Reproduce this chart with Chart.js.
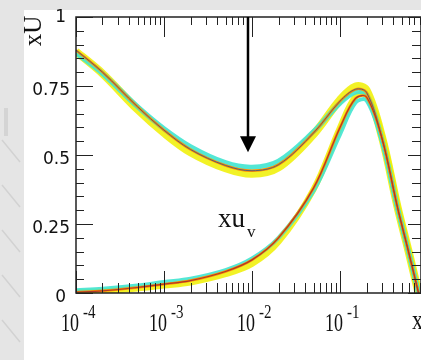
<!DOCTYPE html>
<html>
<head>
<meta charset="utf-8">
<script src="https://cdn.jsdelivr.net/npm/chart.js@4"></script>
<style>
  html, body { margin: 0; padding: 0; background: #e5e5e5; overflow: hidden; }
  #c { position: absolute; left: 0; top: 0; }
</style>
</head>
<body>
<canvas id="c" width="421" height="360"></canvas>
<script>
// x values (log axis) shared by every band
var xs = [1e-4, 2e-4, 5e-4, 1e-3, 2e-3, 5e-3, 1e-2, 2e-2, 5e-2, 0.1, 0.15, 0.2, 0.3, 0.45, 0.6, 0.78];

// upper curve (xU), several fits drawn on top of each other
var upperYellow = [0.875, 0.795, 0.665, 0.580, 0.510, 0.452, 0.432, 0.455, 0.575, 0.700, 0.748, 0.735, 0.565, 0.312, 0.152, 0];
var upperCyan   = [0.870, 0.795, 0.675, 0.595, 0.530, 0.472, 0.456, 0.478, 0.585, 0.688, 0.728, 0.718, 0.555, 0.308, 0.150, 0];
var upperLine   = [0.880, 0.800, 0.675, 0.590, 0.520, 0.462, 0.443, 0.465, 0.580, 0.695, 0.738, 0.727, 0.560, 0.310, 0.150, 0];

// lower curve (xu_v)
var lowerYellow = [0.003, 0.006, 0.016, 0.027, 0.038, 0.068, 0.105, 0.185, 0.375, 0.600, 0.712, 0.718, 0.570, 0.318, 0.156, 0];
var lowerCyan   = [0.010, 0.015, 0.027, 0.040, 0.052, 0.083, 0.125, 0.200, 0.370, 0.575, 0.690, 0.698, 0.550, 0.305, 0.150, 0];
var lowerLine   = [0.003, 0.008, 0.020, 0.032, 0.045, 0.078, 0.120, 0.200, 0.380, 0.600, 0.705, 0.710, 0.560, 0.310, 0.150, 0];

// axes
var xDecades = [-4, -3, -2, -1];
var yTicks = [0, 0.25, 0.5, 0.75, 1];
var yTickLabels = ['0', '0.25', '0.5', '0.75', '1'];

// arrow and label
var arrowX = 9e-3, arrowFrom = 1, arrowTo = 0.51;
var labelX = 4.1e-3, labelY = 0.24;

function pts(ys) {
  return xs.map(function (x, i) { return { x: x, y: ys[i] }; });
}

function band(ys, color, width, order) {
  return {
    data: pts(ys),
    borderColor: color,
    borderWidth: width,
    order: order,
    fill: false,
    pointRadius: 0,
    tension: 0.35
  };
}

// text squeezed like the stretched bitmap of the original
function txt(ctx, s, x, y, font, align, sy) {
  ctx.save();
  ctx.translate(x, y);
  ctx.scale(1, sy || 1);
  ctx.font = font;
  ctx.textAlign = align || 'left';
  ctx.textBaseline = 'middle';
  ctx.fillStyle = '#111';
  ctx.fillText(s, 0, 0);
  ctx.restore();
}

var background = {
  id: 'background',
  beforeDraw: function (chart) {
    var ctx = chart.ctx;
    ctx.save();
    ctx.fillStyle = '#e5e5e5';
    ctx.fillRect(0, 0, 421, 360);
    ctx.fillStyle = '#ffffff';
    ctx.fillRect(24, 10, 397, 350);
    // faint strokes on the left strip
    ctx.strokeStyle = '#d2d2d2';
    ctx.lineWidth = 1.5;
    [140, 185, 230, 275, 320].forEach(function (y) {
      ctx.beginPath();
      ctx.moveTo(2, y);
      ctx.lineTo(20, y + 22);
      ctx.stroke();
    });
    ctx.fillStyle = '#d4d4d4';
    ctx.fillRect(4, 108, 4, 28);
    ctx.restore();
  }
};

var frame = {
  id: 'frame',
  afterDraw: function (chart) {
    var ctx = chart.ctx, a = chart.chartArea;
    var sx = chart.scales.x, sy = chart.scales.y;
    ctx.save();
    ctx.strokeStyle = '#222';
    ctx.lineWidth = 1.5;
    ctx.strokeRect(a.left, a.top, a.right - a.left, a.bottom - a.top);

    // x ticks, inward on bottom and top
    ctx.lineWidth = 1;
    for (var d = -4; d <= 0; d++) {
      for (var m = 1; m <= 9; m++) {
        var v = m * Math.pow(10, d);
        if (v < sx.min || v > sx.max) continue;
        var px = Math.round(sx.getPixelForValue(v)) + 0.5;
        var major = m === 1;
        ctx.beginPath();
        ctx.moveTo(px, a.bottom);
        ctx.lineTo(px, a.bottom - (major ? 22 : 10));
        ctx.moveTo(px, a.top);
        ctx.lineTo(px, a.top + (major ? 20 : 8));
        ctx.stroke();
      }
    }
    // y ticks, inward on left and right
    for (var k = 0; k <= 20; k++) {
      var py = Math.round(sy.getPixelForValue(k * 0.05)) + 0.5;
      var big = k % 5 === 0;
      ctx.beginPath();
      ctx.moveTo(a.left, py);
      ctx.lineTo(a.left + (big ? 17 : 8), py);
      ctx.moveTo(a.right, py);
      ctx.lineTo(a.right - (big ? 13 : 9), py);
      ctx.stroke();
    }

    // tick labels
    xDecades.forEach(function (d) {
      var px = sx.getPixelForValue(Math.pow(10, d));
      txt(ctx, '10', px + 3, 325, '18px "Liberation Serif"', 'right', 1.35);
      txt(ctx, String(d), px + 7, 313, '15px "Liberation Serif"', 'left', 1.3);
    });
    yTicks.forEach(function (v, i) {
      var py = sy.getPixelForValue(v);
      var edge = (v === 0 || v === 1) ? 66 : 70;
      var dy = v === 1 ? 0 : 4;
      txt(ctx, yTickLabels[i], edge, py + dy, '17px "DejaVu Sans"', 'right', 1.05);
    });

    // axis titles
    ctx.save();
    ctx.translate(34, 31);
    ctx.rotate(-Math.PI / 2);
    txt(ctx, 'xU', 0, 0, '25px "Liberation Serif"', 'center', 1);
    ctx.restore();
    txt(ctx, 'x', 412, 322, '22px "Liberation Serif"', 'left', 1.2);

    // curve label
    var lx = sx.getPixelForValue(labelX), ly = sy.getPixelForValue(labelY);
    txt(ctx, 'xu', lx, ly - 7, '27px "Liberation Serif"', 'left', 1);
    txt(ctx, 'v', lx + 29, ly + 6, '17px "Liberation Serif"', 'left', 1);

    // arrow
    var ax = sx.getPixelForValue(arrowX);
    var y0 = sy.getPixelForValue(arrowFrom), y1 = sy.getPixelForValue(arrowTo);
    ctx.strokeStyle = '#000';
    ctx.fillStyle = '#000';
    ctx.lineWidth = 2.5;
    ctx.beginPath();
    ctx.moveTo(ax, y0);
    ctx.lineTo(ax, y1 - 14);
    ctx.stroke();
    ctx.beginPath();
    ctx.moveTo(ax - 8, y1 - 16);
    ctx.lineTo(ax + 8, y1 - 16);
    ctx.lineTo(ax, y1);
    ctx.closePath();
    ctx.fill();
    ctx.restore();
  }
};

var chart = new Chart(document.getElementById('c'), {
  type: 'line',
  data: {
    datasets: [
      band(upperYellow, 'rgba(240,240,0,0.85)', 8, 6),
      band(upperCyan, 'rgba(64,228,208,0.9)', 5, 5),
      band(upperLine, '#ff8c00', 2.5, 4),
      band(upperLine, '#5a6070', 1, 3),
      band(lowerYellow, 'rgba(240,240,0,0.85)', 6, 6),
      band(lowerCyan, 'rgba(64,228,208,0.9)', 4, 5),
      band(lowerLine, '#ff8c00', 2.5, 4),
      band(lowerLine, '#b03828', 1.2, 2)
    ]
  },
  options: {
    responsive: false,
    animation: false,
    devicePixelRatio: 1,
    layout: { padding: { top: 17, left: 0, right: 0, bottom: 0 } },
    plugins: { legend: { display: false }, tooltip: { enabled: false } },
    scales: {
      x: {
        type: 'logarithmic',
        min: 1e-4,
        max: 0.832,
        ticks: { display: false },
        grid: { display: false },
        border: { display: false },
        afterFit: function (s) { s.height = 67; }
      },
      y: {
        min: 0,
        max: 1,
        ticks: { display: false },
        grid: { display: false },
        border: { display: false },
        afterFit: function (s) { s.width = 76; }
      }
    }
  },
  plugins: [background, frame]
});
</script>
</body>
</html>
